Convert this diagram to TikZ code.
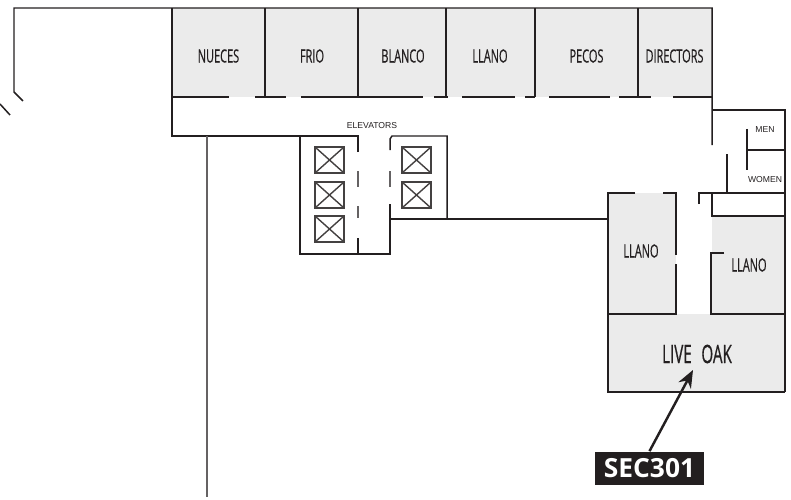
\documentclass[tikz,border=0pt]{standalone}
\usepackage{fontspec}
\usepackage{xcolor}
\usetikzlibrary{arrows.meta}
\newfontfamily\roomfont[FakeStretch=0.6,FakeBold=0.5]{Open Sans}
\newfontfamily\tagfont{Open Sans}
\setmainfont{Liberation Sans}
\definecolor{roomgray}{HTML}{EBEBEB}
\definecolor{wallblack}{HTML}{231F20}
\tikzset{
    wall/.style={draw=wallblack, line width=0.85pt},
    thinwall/.style={draw=wallblack!70, line width=0.85pt},
    liftcar/.style={draw=wallblack!85, line width=0.8pt},
    room/.style={text=wallblack, font=\roomfont\fontsize{10.4}{12}\selectfont},
    smalltag/.style={text=wallblack, font=\fontsize{4.9}{6}\selectfont},
}
\begin{document}
\begin{tikzpicture}[x=0.02cm, y=-0.02cm]
    \useasboundingbox (0,0) rectangle (791,500);

    % Room fills
    \fill [roomgray] (172,8) rectangle (712,97);
    \fill [roomgray] (608,193) rectangle (676,314);
    \fill [roomgray] (712,216) rectangle (785,314);
    \fill [roomgray] (608,314) rectangle (785,392);

    % Outer walls, top row
    \draw [wall] (23,101) -- (14,92) -- (14,8) -- (712,8) -- (712,145);
    \draw [wall] (0,104) -- (10,115);
    \foreach \x in {172,265,358,446,535,638} {
        \draw [wall] (\x,8) -- (\x,97);
    }
    \draw [wall] (172,97) -- (172,136) -- (300,136);
    \draw [thinwall] (207,136) -- (207,497);

    % Door gaps along the corridor
    \foreach \a/\b in {172/229,255/286,301/423,434/448,462/515,525/535,549/610,619/651,673/712} {
        \draw [wall] (\a,97) -- (\b,97);
    }

    % Elevators
    \draw [wall] (358,152) -- (358,136) -- (300,136) -- (300,254) -- (390,254) -- (390,204);
    \draw [wall] (358,238) -- (358,254);
    \draw [wall] (390,150) -- (390,139) -- (392,136) -- (447,136) -- (447,219);
    \draw [wall] (390,219) -- (608,219);
    \foreach \y/\z in {171/187,206/218} {
        \draw [thinwall] (358,\y) -- (358,\z);
    }
    \draw [thinwall] (390,171) -- (390,187);
    \foreach \x/\y in {315/147,315/182,315/216,402/147,402/182} {
        \draw [liftcar] (\x,\y) rectangle ++(29,26);
        \draw [liftcar] (\x,\y) -- ++(29,26) (\x,\y+26) -- ++(29,-26);
    }

    % Rest rooms
    \draw [wall] (712,110) -- (785,110) -- (785,392);
    \draw [wall] (747,129) -- (747,170);
    \draw [wall] (747,150) -- (785,150);
    \draw [wall] (727,154) -- (727,193);
    \draw [wall] (699,204) -- (699,193) -- (785,193);
    \draw [wall] (712,193) -- (712,216) -- (785,216);

    % Llano rooms and Live Oak
    \draw [wall] (635,193) -- (608,193) -- (608,392) -- (785,392);
    \draw [wall] (663,193) -- (676,193) -- (676,255);
    \draw [wall] (676,264) -- (676,314) -- (608,314);
    \draw [wall] (724,253) -- (711,253) -- (711,314) -- (785,314);

    % Labels
    \node [room] (nueces) at (218.5,56) {NUECES};
    \node [room] (frio) at (312,56) {FRIO};
    \node [room] (blanco) at (403,56) {BLANCO};
    \node [room] (llanotop) at (490,56) {LLANO};
    \node [room] (pecos) at (586.5,56) {PECOS};
    \node [room] (directors) at (674.5,56) {DIRECTORS};
    \node [room] (llanoleft) at (641,251) {LLANO};
    \node [room] (llanoright) at (749,265) {LLANO};
    \node [room, font=\roomfont\fontsize{14.4}{16}\selectfont] (liveoak) at (697,354) {LIVE\hspace{5.5pt}OAK};
    \node [smalltag] (elevators) at (372,126) {ELEVATORS};
    \node [smalltag] (men) at (765,130) {MEN};
    \node [smalltag] (women) at (765,180) {WOMEN};

    % Callout
    \node [fill=wallblack, text=white, font=\tagfont\bfseries\fontsize{15}{17}\selectfont,
        minimum width=109*0.02cm, minimum height=33*0.02cm, inner sep=0pt] (sec) at (649.5,468) {SEC301};
    \coordinate (target) at (693,370);
    \draw [draw=wallblack, line width=1.4pt, -{Stealth[length=10pt,width=8pt]}] (sec.north) -- (target);
\end{tikzpicture}
\end{document}
